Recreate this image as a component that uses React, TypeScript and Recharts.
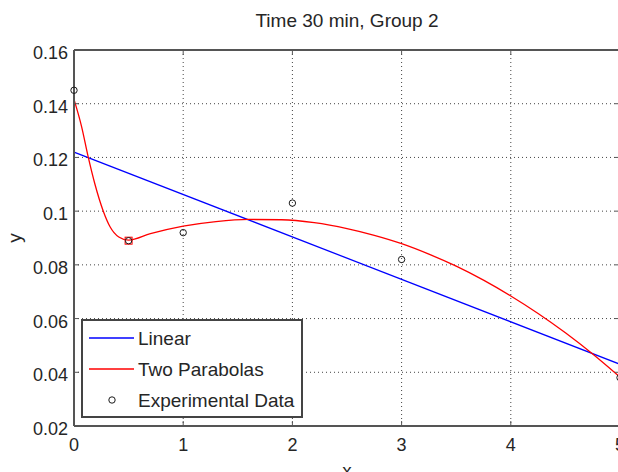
import {
  ComposedChart,
  Line,
  Scatter,
  XAxis,
  YAxis,
  CartesianGrid,
  ReferenceLine,
  Legend,
} from "recharts";

// fitted models and measurements
const xTicks = [0, 1, 2, 3, 4, 5];
const yTicks = [0.02, 0.04, 0.06, 0.08, 0.1, 0.12, 0.14, 0.16];

const linearX = [0, 5];
const linearY = [0.122, 0.043];

const parabolasX = [0, 0.07, 0.13, 0.19, 0.27, 0.33, 0.41, 0.5, 0.7, 1, 1.3, 1.6, 1.9, 2.2, 2.5, 2.75, 3, 3.25, 3.5, 3.75, 4, 4.25, 4.5, 4.75, 5];
const parabolasY = [
  0.1416, 0.1314, 0.1202, 0.1103, 0.0998, 0.0942, 0.0904, 0.0892, 0.0916, 0.0944, 0.0961, 0.0969, 0.0968,
  0.0957, 0.0935, 0.091, 0.0879, 0.084, 0.0795, 0.0743, 0.0684, 0.0619, 0.0547, 0.0468, 0.0382,
];

const expX = [0, 0.5, 1, 2, 3, 5];
const expY = [0.145, 0.089, 0.092, 0.103, 0.082, 0.038];

// breakpoint where the two parabolas meet
const joinX = [0.5];
const joinY = [0.089];

const zip = (xs: number[], ys: number[]) => xs.map((x, i) => ({ x, y: ys[i] }));

const linearData = zip(linearX, linearY);
const parabolasData = zip(parabolasX, parabolasY);
const expData = zip(expX, expY);
const joinData = zip(joinX, joinY);

const W = 640;
const H = 472;
const MARGIN = { top: 50, right: 20, bottom: 0, left: 0 };
const Y_AXIS_W = 74;
const X_AXIS_H = 46;
const PLOT_LEFT = MARGIN.left + Y_AXIS_W;
const PLOT_RIGHT = W - MARGIN.right;
const PLOT_TOP = MARGIN.top;
const PLOT_BOTTOM = H - MARGIN.bottom - X_AXIS_H;
const TICK_LEN = 5;

const FONT = "'Liberation Sans', Arial, Helvetica, sans-serif";
const TEXT = "#262626";
const AXIS = "#555";

const fmt = (v: number) => String(+v.toFixed(2));

const LeftTick = (props: any) => {
  const { x, y, payload } = props;
  return (
    <g>
      <text x={x} y={y} dy="0.5em" textAnchor="end" fontSize={18} fontFamily={FONT} fill={TEXT}>
        {fmt(payload.value)}
      </text>
      <line x1={PLOT_LEFT} x2={PLOT_LEFT + TICK_LEN} y1={y} y2={y} stroke={AXIS} strokeWidth={1} />
      <line x1={PLOT_RIGHT - TICK_LEN} x2={PLOT_RIGHT} y1={y} y2={y} stroke={AXIS} strokeWidth={1} />
    </g>
  );
};

const BottomTick = (props: any) => {
  const { x, y, payload } = props;
  return (
    <g>
      <text x={x} y={y} dy="0.72em" textAnchor="middle" fontSize={18} fontFamily={FONT} fill={TEXT}>
        {fmt(payload.value)}
      </text>
      <line x1={x} x2={x} y1={PLOT_BOTTOM} y2={PLOT_BOTTOM - TICK_LEN} stroke={AXIS} strokeWidth={1} />
      <line x1={x} x2={x} y1={PLOT_TOP} y2={PLOT_TOP + TICK_LEN} stroke={AXIS} strokeWidth={1} />
    </g>
  );
};

const OpenCircle = (props: any) => (
  <circle cx={props.cx} cy={props.cy} r={3.2} fill="none" stroke="#1a1a1a" strokeWidth={1} />
);

const RedSquare = (props: any) => (
  <rect x={props.cx - 3.5} y={props.cy - 3.5} width={7} height={7} fill="none" stroke="#ff0000" strokeWidth={1} />
);

const legendItems = [
  { name: "Linear", color: "#0000ff", kind: "line" },
  { name: "Two Parabolas", color: "#ff0000", kind: "line" },
  { name: "Experimental Data", color: "#1a1a1a", kind: "circle" },
];

const LegendBox = () => (
  <div
    style={{
      width: 222,
      height: 99,
      boxSizing: "border-box",
      border: `2px solid #444`,
      background: "#fff",
      position: "relative",
    }}
  >
    <svg width={218} height={95} style={{ position: "absolute", left: 0, top: 0 }}>
      {legendItems.map((item, i) => {
        const cy = 17 + i * 31;
        return (
          <g key={item.name}>
            {item.kind === "line" ? (
              <line x1={6} x2={51} y1={cy} y2={cy} stroke={item.color} strokeWidth={1.3} />
            ) : (
              <circle cx={29} cy={cy} r={3.2} fill="none" stroke={item.color} strokeWidth={1} />
            )}
            <text x={55} y={cy} dy="0.36em" fontSize={19} fontFamily={FONT} fill={TEXT}>
              {item.name}
            </text>
          </g>
        );
      })}
    </svg>
  </div>
);

export default function App() {
  return (
    <div
      style={{
        position: "fixed",
        left: 0,
        top: 0,
        width: 618,
        height: 472,
        overflow: "hidden",
        background: "#fff",
        fontFamily: FONT,
      }}
    >
      <div
        style={{
          position: "absolute",
          left: PLOT_LEFT,
          width: PLOT_RIGHT - PLOT_LEFT,
          top: 11,
          fontSize: 19,
          lineHeight: "19px",
          textAlign: "center",
          color: TEXT,
          zIndex: 1,
        }}
      >
        Time 30 min, Group 2
      </div>
      <ComposedChart width={W} height={H} margin={MARGIN}>
        <CartesianGrid stroke="#444" strokeDasharray="1 3" strokeWidth={1} />
        <XAxis
          dataKey="x"
          type="number"
          domain={[0, 5]}
          ticks={xTicks}
          interval={0}
          height={X_AXIS_H}
          tickSize={0}
          tickMargin={12}
          tick={BottomTick}
          axisLine={{ stroke: AXIS, strokeWidth: 2 }}
          label={{ value: "x", position: "insideBottom", offset: -5, fontSize: 19, fill: TEXT, fontFamily: FONT }}
        />
        <YAxis
          dataKey="y"
          type="number"
          domain={[0.02, 0.16]}
          ticks={yTicks}
          interval={0}
          width={Y_AXIS_W}
          tickSize={0}
          tickMargin={6}
          tick={LeftTick}
          axisLine={{ stroke: AXIS, strokeWidth: 2 }}
          label={{
            value: "y",
            angle: -90,
            position: "insideLeft",
            offset: 14,
            fontSize: 19,
            fill: TEXT,
            fontFamily: FONT,
            style: { textAnchor: "middle" },
          }}
        />
        <ReferenceLine y={0.16} stroke={AXIS} strokeWidth={2} />
        <ReferenceLine x={5} stroke={AXIS} strokeWidth={2} />
        <Line
          data={linearData}
          dataKey="y"
          name="Linear"
          type="linear"
          stroke="#0000ff"
          strokeWidth={1.3}
          dot={false}
          activeDot={false}
          isAnimationActive={false}
        />
        <Line
          data={parabolasData}
          dataKey="y"
          name="Two Parabolas"
          type="monotone"
          stroke="#ff0000"
          strokeWidth={1.3}
          dot={false}
          activeDot={false}
          isAnimationActive={false}
        />
        <Scatter
          data={joinData}
          dataKey="y"
          name="join"
          legendType="none"
          shape={RedSquare}
          isAnimationActive={false}
        />
        <Scatter
          data={expData}
          dataKey="y"
          name="Experimental Data"
          legendType="circle"
          shape={OpenCircle}
          isAnimationActive={false}
        />
        <Legend
          layout="horizontal"
          verticalAlign="middle"
          align="center"
          content={LegendBox}
          wrapperStyle={{ left: 81, top: 319, width: 222, height: 99 }}
        />
      </ComposedChart>
    </div>
  );
}
